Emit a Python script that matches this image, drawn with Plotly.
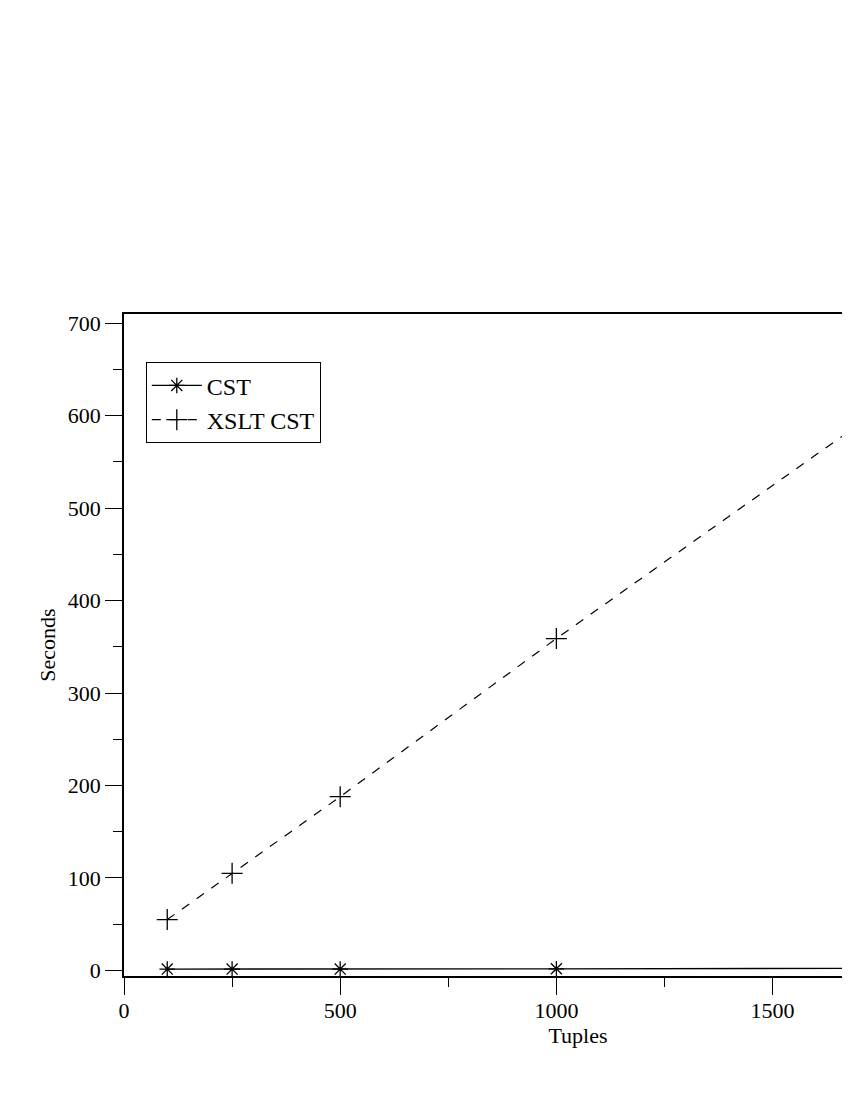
import plotly.graph_objects as go

# data (seconds vs number of tuples)
tuples = [100, 250, 500, 1000, 2000]
cst = [1.5, 1.5, 1.5, 1.8, 2.5]
xslt_cst = [55, 105, 188, 359, 690]
x_ticks = [0, 500, 1000, 1500]
y_ticks = [0, 100, 200, 300, 400, 500, 600, 700]

FONT = 'Liberation Serif'

fig = go.Figure()
fig.add_trace(go.Scatter(x=tuples, y=cst, name='CST', mode='lines+markers',
                         line=dict(color='black', width=1.3),
                         marker=dict(symbol='asterisk-open', size=13, color='black',
                                     line=dict(width=1.3, color='black'))))
fig.add_trace(go.Scatter(x=tuples, y=xslt_cst, name='XSLT CST', mode='lines+markers',
                         line=dict(color='black', width=1.2, dash='dash'),
                         marker=dict(symbol='cross-thin-open', size=15, color='black',
                                     line=dict(width=1.3, color='black'))))

axis = dict(showgrid=False, zeroline=False, showline=True, linecolor='black', linewidth=1.5,
            mirror=True, ticks='outside', ticklen=17, tickwidth=1.3, tickcolor='black',
            tickfont=dict(family=FONT, size=22, color='black'))
fig.update_xaxes(**axis, range=[0, 2100], tickvals=x_ticks, ticklabelstandoff=-3,
                 minor=dict(dtick=250, ticks='outside', ticklen=9, tickwidth=1.3, tickcolor='black'),
                 title=dict(text='Tuples', font=dict(family=FONT, size=22, color='black'), standoff=0))
fig.update_yaxes(**axis, range=[-6, 710], tickvals=y_ticks,
                 minor=dict(dtick=50, ticks='outside', ticklen=9, tickwidth=1.3, tickcolor='black'),
                 title=dict(text='Seconds', font=dict(family=FONT, size=22, color='black'), standoff=6))

# the page body adds an 8px offset, so margins are trimmed by that much
fig.update_layout(width=1100, height=1084, plot_bgcolor='white', paper_bgcolor='white',
                  margin=dict(l=116, r=76, t=306, b=116),
                  legend=dict(x=0.024, y=0.927, xanchor='left', yanchor='top',
                              bordercolor='black', borderwidth=1, bgcolor='white',
                              font=dict(family=FONT, size=24, color='black'),
                              tracegroupgap=0, itemwidth=50))
fig.write_html('out.html')
